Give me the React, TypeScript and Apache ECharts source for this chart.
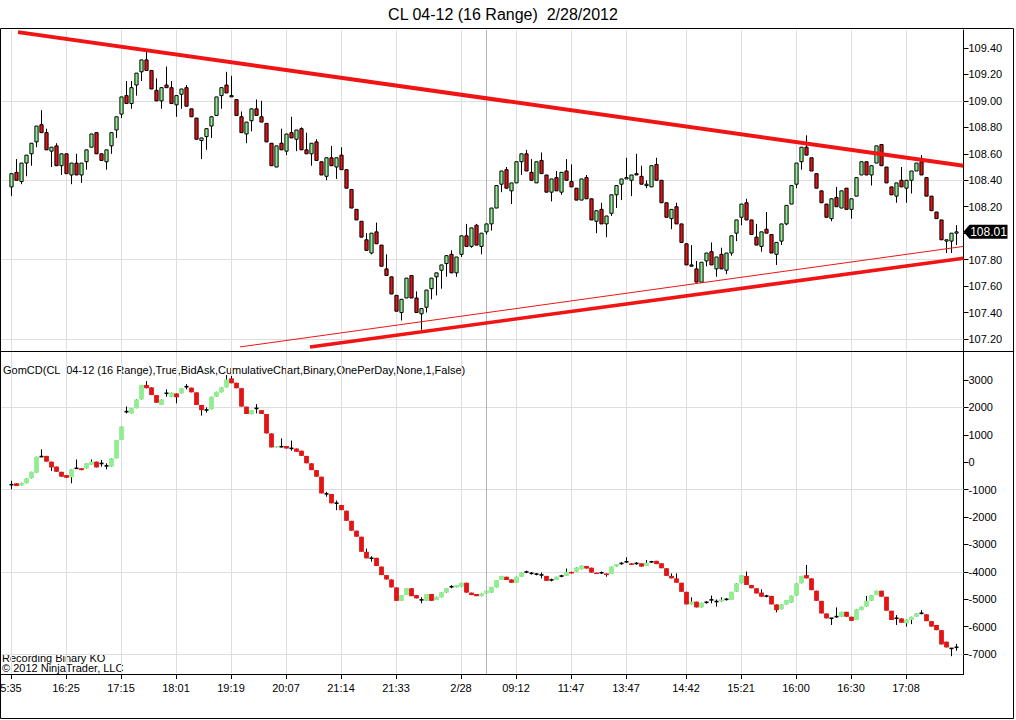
import React, { useEffect, useRef } from "react";
import * as echarts from "echarts";

const FONT = '"Liberation Sans", Arial, sans-serif';
const GREEN = "#90ee90";
const RED = "#e31414";
const LINE_RED = "#f01414";

const titleText = "CL 04-12 (16 Range)  2/28/2012";
const indicatorText = "GomCD(CL  04-12 (16 Range),True,BidAsk,CumulativeChart,Binary,OnePerDay,None,1,False)";
const footerLines = ["Recording Binary KO", "\u00a9 2012 NinjaTrader, LLC"];

const timeLabels = ["5:35", "16:25", "17:15", "18:01", "19:19", "20:07", "21:14", "21:33", "2/28", "09:12", "11:47", "13:47", "14:42", "15:21", "16:00", "16:30", "17:08"];
const labelBarIdx = [0, 11, 22, 33, 44, 55, 66, 77, 90, 101, 112, 123, 135, 146, 157, 168, 179];
const sessionBreakBar = 95;

const priceTicks = [107.2, 107.4, 107.6, 107.8, 108.0, 108.2, 108.4, 108.6, 108.8, 109.0, 109.2, 109.4];
const priceGrid = [109.0, 108.4, 107.8, 107.2];
const deltaTicks = [-7000, -6000, -5000, -4000, -3000, -2000, -1000, 0, 1000, 2000, 3000];
const deltaGrid = [2000, -1000, -4000, -7000];

// [open, close, low, high]
const priceBars = [
  [108.35,108.45,108.28,108.45],[108.46,108.40,108.40,108.56],[108.39,108.53,108.37,108.53],[108.53,108.59,108.43,108.59],[108.60,108.68,108.51,108.68],
  [108.69,108.81,108.65,108.81],[108.82,108.76,108.76,108.93],[108.76,108.63,108.63,108.79],[108.62,108.65,108.50,108.65],[108.66,108.51,108.51,108.68],
  [108.51,108.60,108.44,108.60],[108.60,108.45,108.45,108.60],[108.44,108.53,108.37,108.53],[108.53,108.44,108.44,108.60],[108.44,108.53,108.38,108.53],
  [108.54,108.63,108.48,108.63],[108.65,108.75,108.65,108.75],[108.76,108.60,108.60,108.76],[108.60,108.55,108.55,108.60],[108.54,108.63,108.48,108.63],
  [108.66,108.76,108.60,108.76],[108.78,108.88,108.72,108.88],[108.90,109.03,108.87,109.03],[109.04,108.98,108.98,109.15],[108.98,109.10,108.94,109.15],
  [109.12,109.21,109.04,109.21],[109.22,109.31,109.15,109.31],[109.31,109.23,109.23,109.38],[109.23,109.09,109.09,109.23],[109.08,109.00,109.00,109.17],
  [109.00,109.10,108.94,109.10],[109.12,109.10,109.10,109.26],[109.10,108.98,108.98,109.15],[108.97,109.04,108.88,109.04],[109.05,109.09,108.94,109.09],
  [109.10,108.96,108.96,109.12],[108.94,108.88,108.88,108.94],[108.87,108.71,108.71,108.87],[108.70,108.72,108.56,108.72],[108.73,108.79,108.63,108.79],
  [108.81,108.88,108.72,108.88],[108.89,109.03,108.89,109.03],[109.04,109.10,108.94,109.10],[109.12,109.06,109.06,109.22],[109.04,109.03,109.03,109.19],
  [109.01,108.89,108.89,109.01],[108.88,108.76,108.76,108.92],[108.75,108.84,108.68,108.84],[108.85,108.94,108.77,108.94],[108.94,108.89,108.89,109.01],
  [108.88,108.84,108.84,109.00],[108.83,108.69,108.69,108.83],[108.68,108.51,108.51,108.68],[108.50,108.66,108.50,108.66],[108.68,108.63,108.63,108.79],
  [108.62,108.75,108.59,108.75],[108.76,108.72,108.72,108.88],[108.71,108.78,108.62,108.78],[108.79,108.63,108.63,108.80],[108.63,108.60,108.60,108.76],
  [108.60,108.68,108.51,108.68],[108.69,108.55,108.55,108.71],[108.54,108.44,108.44,108.54],[108.43,108.57,108.40,108.57],[108.57,108.51,108.51,108.66],
  [108.50,108.57,108.41,108.57],[108.59,108.48,108.48,108.65],[108.48,108.34,108.34,108.48],[108.33,108.19,108.19,108.33],[108.18,108.10,108.10,108.18],
  [108.09,107.97,107.97,108.09],[107.95,107.87,107.87,108.00],[107.85,108.00,107.84,108.00],[108.01,107.92,107.92,108.08],[107.91,107.75,107.75,107.91],
  [107.73,107.68,107.68,107.84],[107.67,107.54,107.54,107.67],[107.53,107.41,107.41,107.53],[107.40,107.50,107.34,107.50],[107.51,107.66,107.51,107.66],
  [107.68,107.51,107.51,107.68],[107.51,107.40,107.40,107.56],[107.39,107.43,107.27,107.43],[107.44,107.57,107.40,107.57],[107.58,107.66,107.50,107.66],
  [107.67,107.70,107.53,107.70],[107.72,107.76,107.58,107.76],[107.77,107.83,107.67,107.83],[107.84,107.70,107.70,107.87],[107.70,107.82,107.67,107.82],
  [107.84,107.98,107.82,107.98],[107.98,107.90,107.90,108.07],[107.90,108.04,107.89,108.04],[108.06,107.91,107.91,108.07],[107.90,108.00,107.84,108.00],
  [108.01,108.07,107.99,108.07],[108.07,108.19,108.02,108.19],[108.19,108.36,108.19,108.36],[108.37,108.47,108.31,108.47],[108.48,108.34,108.34,108.50],
  [108.32,108.38,108.22,108.38],[108.38,108.54,108.38,108.54],[108.54,108.60,108.44,108.60],[108.60,108.47,108.47,108.63],[108.46,108.40,108.40,108.56],
  [108.38,108.54,108.38,108.54],[108.55,108.45,108.45,108.61],[108.44,108.31,108.31,108.44],[108.31,108.41,108.24,108.41],[108.42,108.32,108.32,108.47],
  [108.31,108.46,108.29,108.46],[108.47,108.40,108.40,108.56],[108.39,108.35,108.35,108.52],[108.34,108.25,108.25,108.34],[108.25,108.41,108.25,108.41],
  [108.42,108.26,108.26,108.44],[108.26,108.10,108.10,108.26],[108.09,108.17,108.00,108.17],[108.18,108.07,108.07,108.23],[108.07,108.13,107.97,108.13],
  [108.15,108.29,108.13,108.29],[108.29,108.36,108.19,108.36],[108.37,108.41,108.25,108.41],[108.41,108.42,108.41,108.57],[108.40,108.44,108.28,108.44],
  [108.45,108.44,108.44,108.60],[108.43,108.37,108.37,108.51],[108.36,108.37,108.34,108.40],[108.35,108.51,108.35,108.51],[108.52,108.40,108.40,108.57],
  [108.40,108.23,108.23,108.40],[108.23,108.12,108.12,108.23],[108.11,108.18,108.03,108.18],[108.20,108.07,108.07,108.23],[108.07,107.93,107.93,108.07],
  [107.92,107.76,107.76,107.92],[107.76,107.75,107.75,107.91],[107.73,107.63,107.63,107.79],[107.63,107.78,107.63,107.78],[107.79,107.85,107.75,107.85],
  [107.86,107.76,107.76,107.93],[107.73,107.82,107.67,107.82],[107.84,107.73,107.73,107.89],[107.72,107.85,107.69,107.85],[107.85,107.98,107.83,107.98],
  [108.00,108.10,107.94,108.10],[108.12,108.22,108.06,108.22],[108.23,108.10,108.10,108.26],[108.10,107.99,107.99,108.10],[107.97,107.91,107.91,108.07],
  [107.90,108.01,107.86,108.01],[108.03,108.00,108.00,108.16],[107.99,107.85,107.85,107.99],[107.84,107.93,107.76,107.93],[107.94,108.07,107.91,108.07],
  [108.07,108.21,108.06,108.21],[108.22,108.36,108.22,108.36],[108.37,108.53,108.34,108.53],[108.54,108.65,108.48,108.65],[108.65,108.59,108.59,108.74],
  [108.57,108.47,108.47,108.57],[108.45,108.34,108.34,108.45],[108.32,108.23,108.23,108.32],[108.22,108.12,108.12,108.22],[108.11,108.26,108.09,108.26],
  [108.27,108.20,108.20,108.35],[108.19,108.32,108.19,108.32],[108.34,108.18,108.18,108.34],[108.18,108.26,108.11,108.26],[108.28,108.42,108.28,108.42],
  [108.44,108.54,108.44,108.54],[108.54,108.44,108.44,108.54],[108.44,108.51,108.36,108.51],[108.53,108.66,108.53,108.66],[108.67,108.51,108.51,108.67],
  [108.50,108.38,108.38,108.50],[108.35,108.29,108.29,108.35],[108.28,108.38,108.23,108.38],[108.40,108.35,108.35,108.50],[108.34,108.40,108.23,108.40],
  [108.40,108.47,108.30,108.47],[108.47,108.53,108.47,108.53],[108.54,108.44,108.44,108.59],[108.42,108.28,108.28,108.42],[108.28,108.17,108.17,108.28],
  [108.16,108.11,108.11,108.16],[108.10,107.95,107.95,108.10],[107.94,107.95,107.85,107.95],[107.94,108.00,107.85,108.00],[108.00,108.01,107.91,108.06],
];

// [open, close, low, high]
const deltaBars = [
  [-830,-810,-990,-680],[-770,-870,-870,-770],[-850,-750,-850,-750],[-770,-590,-770,-590],[-590,-350,-590,-350],
  [-380,200,-380,200],[200,210,180,470],[230,20,20,230],[20,-190,-320,20],[-160,-350,-350,-160],
  [-350,-530,-530,-350],[-470,-570,-570,-470],[-550,-260,-770,-260],[-230,-220,-230,100],[-220,-290,-290,-220],
  [-230,-40,-230,-40],[-100,20,-100,100],[20,-190,-190,20],[-40,-50,-160,80],[-140,-130,-260,-40],
  [-160,140,-160,140],[140,810,140,810],[810,1300,810,1300],[1840,1850,1780,2030],[1780,1970,1780,1970],
  [1970,2290,1970,2290],[2290,2820,2290,2820],[2820,2700,2700,2960],[2730,2450,2450,2730],[2450,2170,2170,2450],
  [2090,2290,2090,2290],[2510,2520,2390,2660],[2390,2540,2390,2540],[2510,2370,2150,2510],[2510,2700,2510,2700],
  [2750,2760,2660,2850],[2720,2550,2550,2720],[2550,2090,2090,2550],[2090,1900,1700,2090],[1900,1910,1810,2000],
  [1930,2390,1930,2390],[2390,2570,2390,2570],[2550,2730,2550,2730],[2730,3020,2730,3180],[3060,2880,2880,3150],
  [2900,2700,2700,2900],[2700,2030,2030,2700],[2030,1760,1760,2030],[1750,1900,1750,1900],[1960,1970,1780,2120],
  [1900,1760,1760,1900],[1760,1050,1050,1760],[1050,540,540,1050],[540,590,540,590],[560,570,540,870],
  [590,500,500,590],[500,510,420,790],[500,380,380,500],[420,230,230,420],[230,-40,-40,230],
  [-40,-290,-290,-40],[-290,-530,-530,-290],[-530,-1140,-1140,-530],[-1160,-1150,-1260,-1080],[-1160,-1500,-1500,-1160],
  [-1500,-1490,-1750,-1400],[-1560,-1750,-1750,-1560],[-1770,-2140,-2140,-1770],[-2140,-2500,-2500,-2140],[-2500,-2720,-2720,-2500],
  [-2720,-3270,-3270,-2720],[-3270,-3510,-3510,-3150],[-3510,-3500,-3630,-3430],[-3490,-3790,-3790,-3490],[-3810,-4120,-4120,-3810],
  [-4120,-4280,-4280,-4120],[-4280,-4570,-4570,-4280],[-4570,-5060,-5060,-4570],[-5060,-4850,-5060,-4850],[-4850,-4600,-4850,-4600],
  [-4600,-4890,-4890,-4600],[-4850,-4970,-4970,-4850],[-5030,-5020,-5150,-4930],[-5060,-4810,-5060,-4810],[-4810,-5060,-5060,-4810],
  [-5030,-4910,-5030,-4910],[-4930,-4750,-4930,-4750],[-4760,-4600,-4760,-4600],[-4550,-4540,-4600,-4490],[-4570,-4480,-4570,-4480],
  [-4540,-4400,-4540,-4400],[-4400,-4760,-4760,-4400],[-4760,-4850,-4850,-4760],[-4810,-4890,-4890,-4810],[-4890,-4790,-4890,-4790],
  [-4790,-4690,-4790,-4690],[-4760,-4550,-4760,-4550],[-4570,-4300,-4570,-4300],[-4300,-4150,-4300,-4150],[-4180,-4300,-4300,-4180],
  [-4280,-4400,-4400,-4280],[-4400,-4180,-4400,-4180],[-4180,-4030,-4180,-4030],[-4010,-4000,-4050,-3960],[-4060,-4050,-4100,-4010],
  [-4090,-4080,-4130,-4050],[-4120,-4110,-4240,-4030],[-4150,-4330,-4330,-4150],[-4300,-4290,-4350,-4250],[-4300,-4180,-4300,-4180],
  [-4160,-4150,-4200,-4110],[-4150,-4000,-4150,-3880],[-4000,-4060,-4060,-4000],[-4000,-3840,-4000,-3840],[-3910,-3770,-3910,-3770],
  [-3790,-3880,-3880,-3790],[-3850,-4030,-4030,-3850],[-4030,-4080,-4080,-4030],[-4040,-4030,-4080,-3990],[-4060,-4120,-4180,-4060],
  [-4080,-3810,-4080,-3810],[-3810,-3720,-3810,-3720],[-3700,-3690,-3740,-3650],[-3640,-3630,-3680,-3470],[-3690,-3750,-3750,-3690],
  [-3700,-3690,-3740,-3650],[-3690,-3810,-3810,-3690],[-3790,-3670,-3790,-3570],[-3640,-3630,-3680,-3600],[-3600,-3720,-3720,-3600],
  [-3690,-3870,-3870,-3690],[-3870,-4150,-4150,-3870],[-4150,-4240,-4240,-4060],[-4240,-4400,-4400,-4060],[-4400,-4730,-4730,-4400],
  [-4730,-5190,-5190,-4730],[-5190,-5090,-5190,-4930],[-5090,-5300,-5300,-5090],[-5300,-5130,-5300,-5130],[-5120,-5110,-5160,-5070],
  [-5030,-5020,-5150,-4870],[-5090,-5080,-5270,-5010],[-5090,-5010,-5090,-4930],[-5010,-5000,-5050,-4960],[-5030,-4730,-5030,-4730],
  [-4730,-4420,-4730,-4420],[-4420,-4120,-4420,-4120],[-4150,-4480,-4480,-3990],[-4480,-4600,-4600,-4480],[-4600,-4790,-4790,-4600],
  [-4760,-4910,-4910,-4640],[-4890,-4880,-4930,-4840],[-4880,-5190,-5190,-4880],[-5190,-5400,-5480,-5190],[-5370,-5190,-5370,-5190],
  [-5190,-5030,-5190,-5030],[-5130,-4870,-5130,-4870],[-4870,-4420,-4870,-4420],[-4420,-4150,-4420,-4150],[-4120,-4240,-4240,-3750],
  [-4240,-4670,-4670,-4240],[-4690,-5060,-5060,-4690],[-5060,-5520,-5520,-5060],[-5520,-5700,-5700,-5520],[-5700,-5690,-5940,-5690],
  [-5640,-5630,-5680,-5300],[-5640,-5460,-5640,-5460],[-5460,-5640,-5640,-5460],[-5640,-5790,-5790,-5640],[-5760,-5370,-5760,-5370],
  [-5400,-5270,-5400,-5270],[-5270,-5060,-5270,-4880],[-5060,-4850,-5060,-4850],[-4850,-4690,-4850,-4690],[-4690,-4910,-4910,-4690],
  [-4910,-5420,-5420,-4910],[-5420,-5760,-5760,-5420],[-5700,-5690,-5940,-5580],[-5700,-5860,-5860,-5700],[-5880,-5740,-6000,-5740],
  [-5760,-5640,-5910,-5640],[-5640,-5520,-5640,-5520],[-5520,-5510,-5550,-5400],[-5550,-5800,-5800,-5550],[-5800,-6000,-6000,-5800],
  [-5940,-6130,-6130,-5940],[-6130,-6650,-6650,-6130],[-6550,-6760,-6760,-6550],[-6800,-6790,-7080,-6790],[-6760,-6750,-6880,-6630],
];

// trend lines: [slot position, price] pairs
const upperTrend = [[3.9, 109.52], [193, 108.51]];
const lowerTrendThick = [[62.3, 107.14], [193, 107.81]];
const lowerTrendThin = [[48.3, 107.14], [193, 107.9]];

const SLOTS = 193;
const FIRST_SLOT = 2;

export default function App() {
  const ref = useRef<HTMLDivElement>(null);

  useEffect(() => {
    const chart = echarts.init(ref.current as HTMLDivElement, null, { renderer: "svg" });
    const categories = Array.from({ length: SLOTS }, (_, j) => String(j));
    const labelMap: Record<number, string> = {};
    labelBarIdx.forEach((b, i) => { labelMap[b + FIRST_SLOT] = timeLabels[i]; });
    const isLabelSlot = (idx: number) => labelMap[idx] !== undefined;

    const priceData = priceBars.map((b, i) => [i + FIRST_SLOT, b[0], b[1], b[2], b[3]]);
    const deltaData = deltaBars.map((b, i) => [i + FIRST_SLOT, b[0], b[1], b[2], b[3]]);
    const lastClose = priceBars[priceBars.length - 1][1];
    // the last-price tag covers the axis label nearest to it
    const priceLabelValues = priceTicks.filter((v) => Math.abs(v - lastClose) > 0.05);

    const renderPrice = (params: any, api: any) => {
      const j = api.value(0);
      const o = api.value(1), c = api.value(2), l = api.value(3), h = api.value(4);
      const pO = api.coord([j, o]);
      const pC = api.coord([j, c]);
      const pL = api.coord([j, l]);
      const pH = api.coord([j, h]);
      const w = 3.2;
      const xc = Math.round(pO[0]) + 0.5;
      const top = Math.min(pO[1], pC[1]);
      const bot = Math.max(pO[1], pC[1]);
      return {
        type: "group",
        children: [
          { type: "line", shape: { x1: xc, y1: pH[1], x2: xc, y2: pL[1] }, style: { stroke: "#000", lineWidth: 1 } },
          {
            type: "rect",
            shape: { x: xc - w / 2, y: top, width: w, height: Math.max(bot - top, 1) },
            style: { fill: c >= o ? GREEN : RED, stroke: "#000", lineWidth: 1 },
          },
        ],
      };
    };

    const renderDelta = (params: any, api: any) => {
      const j = api.value(0);
      const o = api.value(1), c = api.value(2), l = api.value(3), h = api.value(4);
      const pO = api.coord([j, o]);
      const pC = api.coord([j, c]);
      const pL = api.coord([j, l]);
      const pH = api.coord([j, h]);
      const w = api.size([1, 0])[0] * 0.96;
      const xc = Math.round(pO[0]) + 0.5;
      const top = Math.min(pO[1], pC[1]);
      const bot = Math.max(pO[1], pC[1]);
      const children: any[] = [
        { type: "line", shape: { x1: xc, y1: pH[1], x2: xc, y2: pL[1] }, style: { stroke: "#000", lineWidth: 1 } },
      ];
      if (bot - top < 1.2) {
        children.push({ type: "rect", shape: { x: xc - 2, y: (top + bot) / 2 - 0.8, width: 4, height: 1.6 }, style: { fill: "#000" } });
      } else {
        children.push({ type: "rect", shape: { x: xc - w / 2, y: top, width: w, height: bot - top }, style: { fill: c >= o ? GREEN : RED } });
      }
      return { type: "group", children };
    };

    const gridLineStyle = { color: "#dedede", width: 1, type: "solid" };
    const vLines = labelBarIdx.map((b) => ({ xAxis: b + FIRST_SLOT, lineStyle: gridLineStyle }));
    const breakLine = { xAxis: sessionBreakBar + FIRST_SLOT, lineStyle: { color: "#b4b4b4", width: 1, type: "solid" } };
    const markLineBase = { silent: true, symbol: ["none", "none"], label: { show: false }, z: 1, animation: false };

    const axisText = { color: "#000", fontSize: 11, fontFamily: FONT };

    const baseGraphics: any[] = [
      { id: "frame", type: "rect", silent: true, z: 100, shape: { x: 0.5, y: 28.5, width: 1013, height: 690 }, style: { fill: "none", stroke: "#000", lineWidth: 1 } },
      { id: "sep", type: "line", silent: true, z: 100, shape: { x1: 0, y1: 351.5, x2: 1014, y2: 351.5 }, style: { stroke: "#000", lineWidth: 1 } },
      { id: "title", type: "text", silent: true, x: 503, y: 14, style: { text: titleText, fontSize: 16, fontFamily: FONT, fill: "#000", align: "center", verticalAlign: "middle" } },
      { id: "ind", type: "text", silent: true, x: 3, y: 370, style: { text: indicatorText, fontSize: 11, fontFamily: FONT, fill: "#000", align: "left", verticalAlign: "middle" } },
      { id: "foot0", type: "text", silent: true, x: 2, y: 658, style: { text: footerLines[0], fontSize: 11, fontFamily: FONT, fill: "#000", align: "left", verticalAlign: "middle" } },
      { id: "foot1", type: "text", silent: true, x: 2, y: 668, style: { text: footerLines[1], fontSize: 11, fontFamily: FONT, fill: "#000", align: "left", verticalAlign: "middle" } },
    ];

    const option: any = {
      animation: false,
      backgroundColor: "#fff",
      textStyle: { fontFamily: FONT },
      grid: [
        { left: -1.5, top: 30, width: 965, height: 322, containLabel: false, outerBoundsMode: "none" },
        { left: -1.5, top: 352, width: 965, height: 322, containLabel: false, outerBoundsMode: "none" },
      ],
      xAxis: [
        { type: "category", gridIndex: 0, data: categories, boundaryGap: true, axisLine: { show: false, onZero: false }, axisTick: { show: false }, axisLabel: { show: false }, splitLine: { show: false } },
        {
          type: "category", gridIndex: 1, data: categories, boundaryGap: true, position: "bottom",
          axisLine: { show: true, onZero: false, lineStyle: { color: "#000", width: 1 } },
          axisTick: { show: true, length: 5, alignWithLabel: true, interval: (idx: number) => isLabelSlot(idx), lineStyle: { color: "#000" } },
          axisLabel: { ...axisText, margin: 8, interval: (idx: number) => isLabelSlot(idx), formatter: (v: string) => labelMap[Number(v)] ?? "" },
          splitLine: { show: false },
        },
        {
          type: "value", gridIndex: 0, min: 0, max: SLOTS, show: false,
          axisLine: { show: false, onZero: false }, axisTick: { show: false }, axisLabel: { show: false }, splitLine: { show: false },
        },
      ],
      yAxis: [
        {
          type: "value", gridIndex: 0, position: "right", min: 107.1017, max: 109.536, scale: true,
          axisLine: { show: true, onZero: false, lineStyle: { color: "#000", width: 1 } },
          axisTick: { show: true, length: 5, customValues: priceTicks, lineStyle: { color: "#000" } },
          axisLabel: { ...axisText, margin: 5, customValues: priceLabelValues, formatter: (v: number) => v.toFixed(2) },
          splitLine: { show: false },
        },
        {
          type: "value", gridIndex: 1, position: "right", min: -7729.9, max: 4021.9, scale: true,
          axisLine: { show: true, onZero: false, lineStyle: { color: "#000", width: 1 } },
          axisTick: { show: true, length: 5, customValues: deltaTicks, lineStyle: { color: "#000" } },
          axisLabel: { ...axisText, margin: 5, customValues: deltaTicks, formatter: (v: number) => String(Math.round(v)) },
          splitLine: { show: false },
        },
      ],
      series: [
        {
          type: "custom", name: "price", xAxisIndex: 0, yAxisIndex: 0, z: 2,
          renderItem: renderPrice, data: priceData, encode: { x: 0, y: [1, 2, 3, 4] },
          markLine: { ...markLineBase, data: [...priceGrid.map((v) => ({ yAxis: v, lineStyle: gridLineStyle })), ...vLines, breakLine] },
        },
        {
          type: "custom", name: "delta", xAxisIndex: 1, yAxisIndex: 1, z: 2,
          renderItem: renderDelta, data: deltaData, encode: { x: 0, y: [1, 2, 3, 4] },
          markLine: { ...markLineBase, data: [...deltaGrid.map((v) => ({ yAxis: v, lineStyle: gridLineStyle })), ...vLines, breakLine] },
        },
        { type: "line", xAxisIndex: 2, yAxisIndex: 0, z: 3, data: upperTrend, symbol: "none", lineStyle: { color: LINE_RED, width: 4 }, silent: true },
        { type: "line", xAxisIndex: 2, yAxisIndex: 0, z: 3, data: lowerTrendThick, symbol: "none", lineStyle: { color: LINE_RED, width: 3.5 }, silent: true },
        { type: "line", xAxisIndex: 2, yAxisIndex: 0, z: 3, data: lowerTrendThin, symbol: "none", lineStyle: { color: LINE_RED, width: 1 }, silent: true },
      ],
      graphic: baseGraphics,
    };

    chart.setOption(option);

    const ty = chart.convertToPixel({ yAxisIndex: 0 } as any, lastClose) as unknown as number;
    const tx = chart.convertToPixel({ xAxisIndex: 2 } as any, SLOTS) as unknown as number;
    if (typeof ty === "number" && !isNaN(ty)) {
      const x0 = typeof tx === "number" && !isNaN(tx) ? tx : 963;
      chart.setOption({
        graphic: [
          ...baseGraphics,
          {
            id: "tag", type: "polygon", silent: true, z: 101,
            shape: { points: [[x0, ty], [x0 + 6, ty - 7], [x0 + 44, ty - 7], [x0 + 44, ty + 7], [x0 + 6, ty + 7]] },
            style: { fill: "#000" },
          },
          {
            id: "tagText", type: "text", silent: true, z: 102, x: x0 + 25, y: ty,
            style: { text: lastClose.toFixed(2), fontSize: 12, fontFamily: FONT, fill: "#fff", align: "center", verticalAlign: "middle" },
          },
        ],
      });
    }

    return () => chart.dispose();
  }, []);

  return <div ref={ref} style={{ position: "absolute", left: 0, top: 0, width: 1016, height: 720, background: "#fff" }} />;
}
